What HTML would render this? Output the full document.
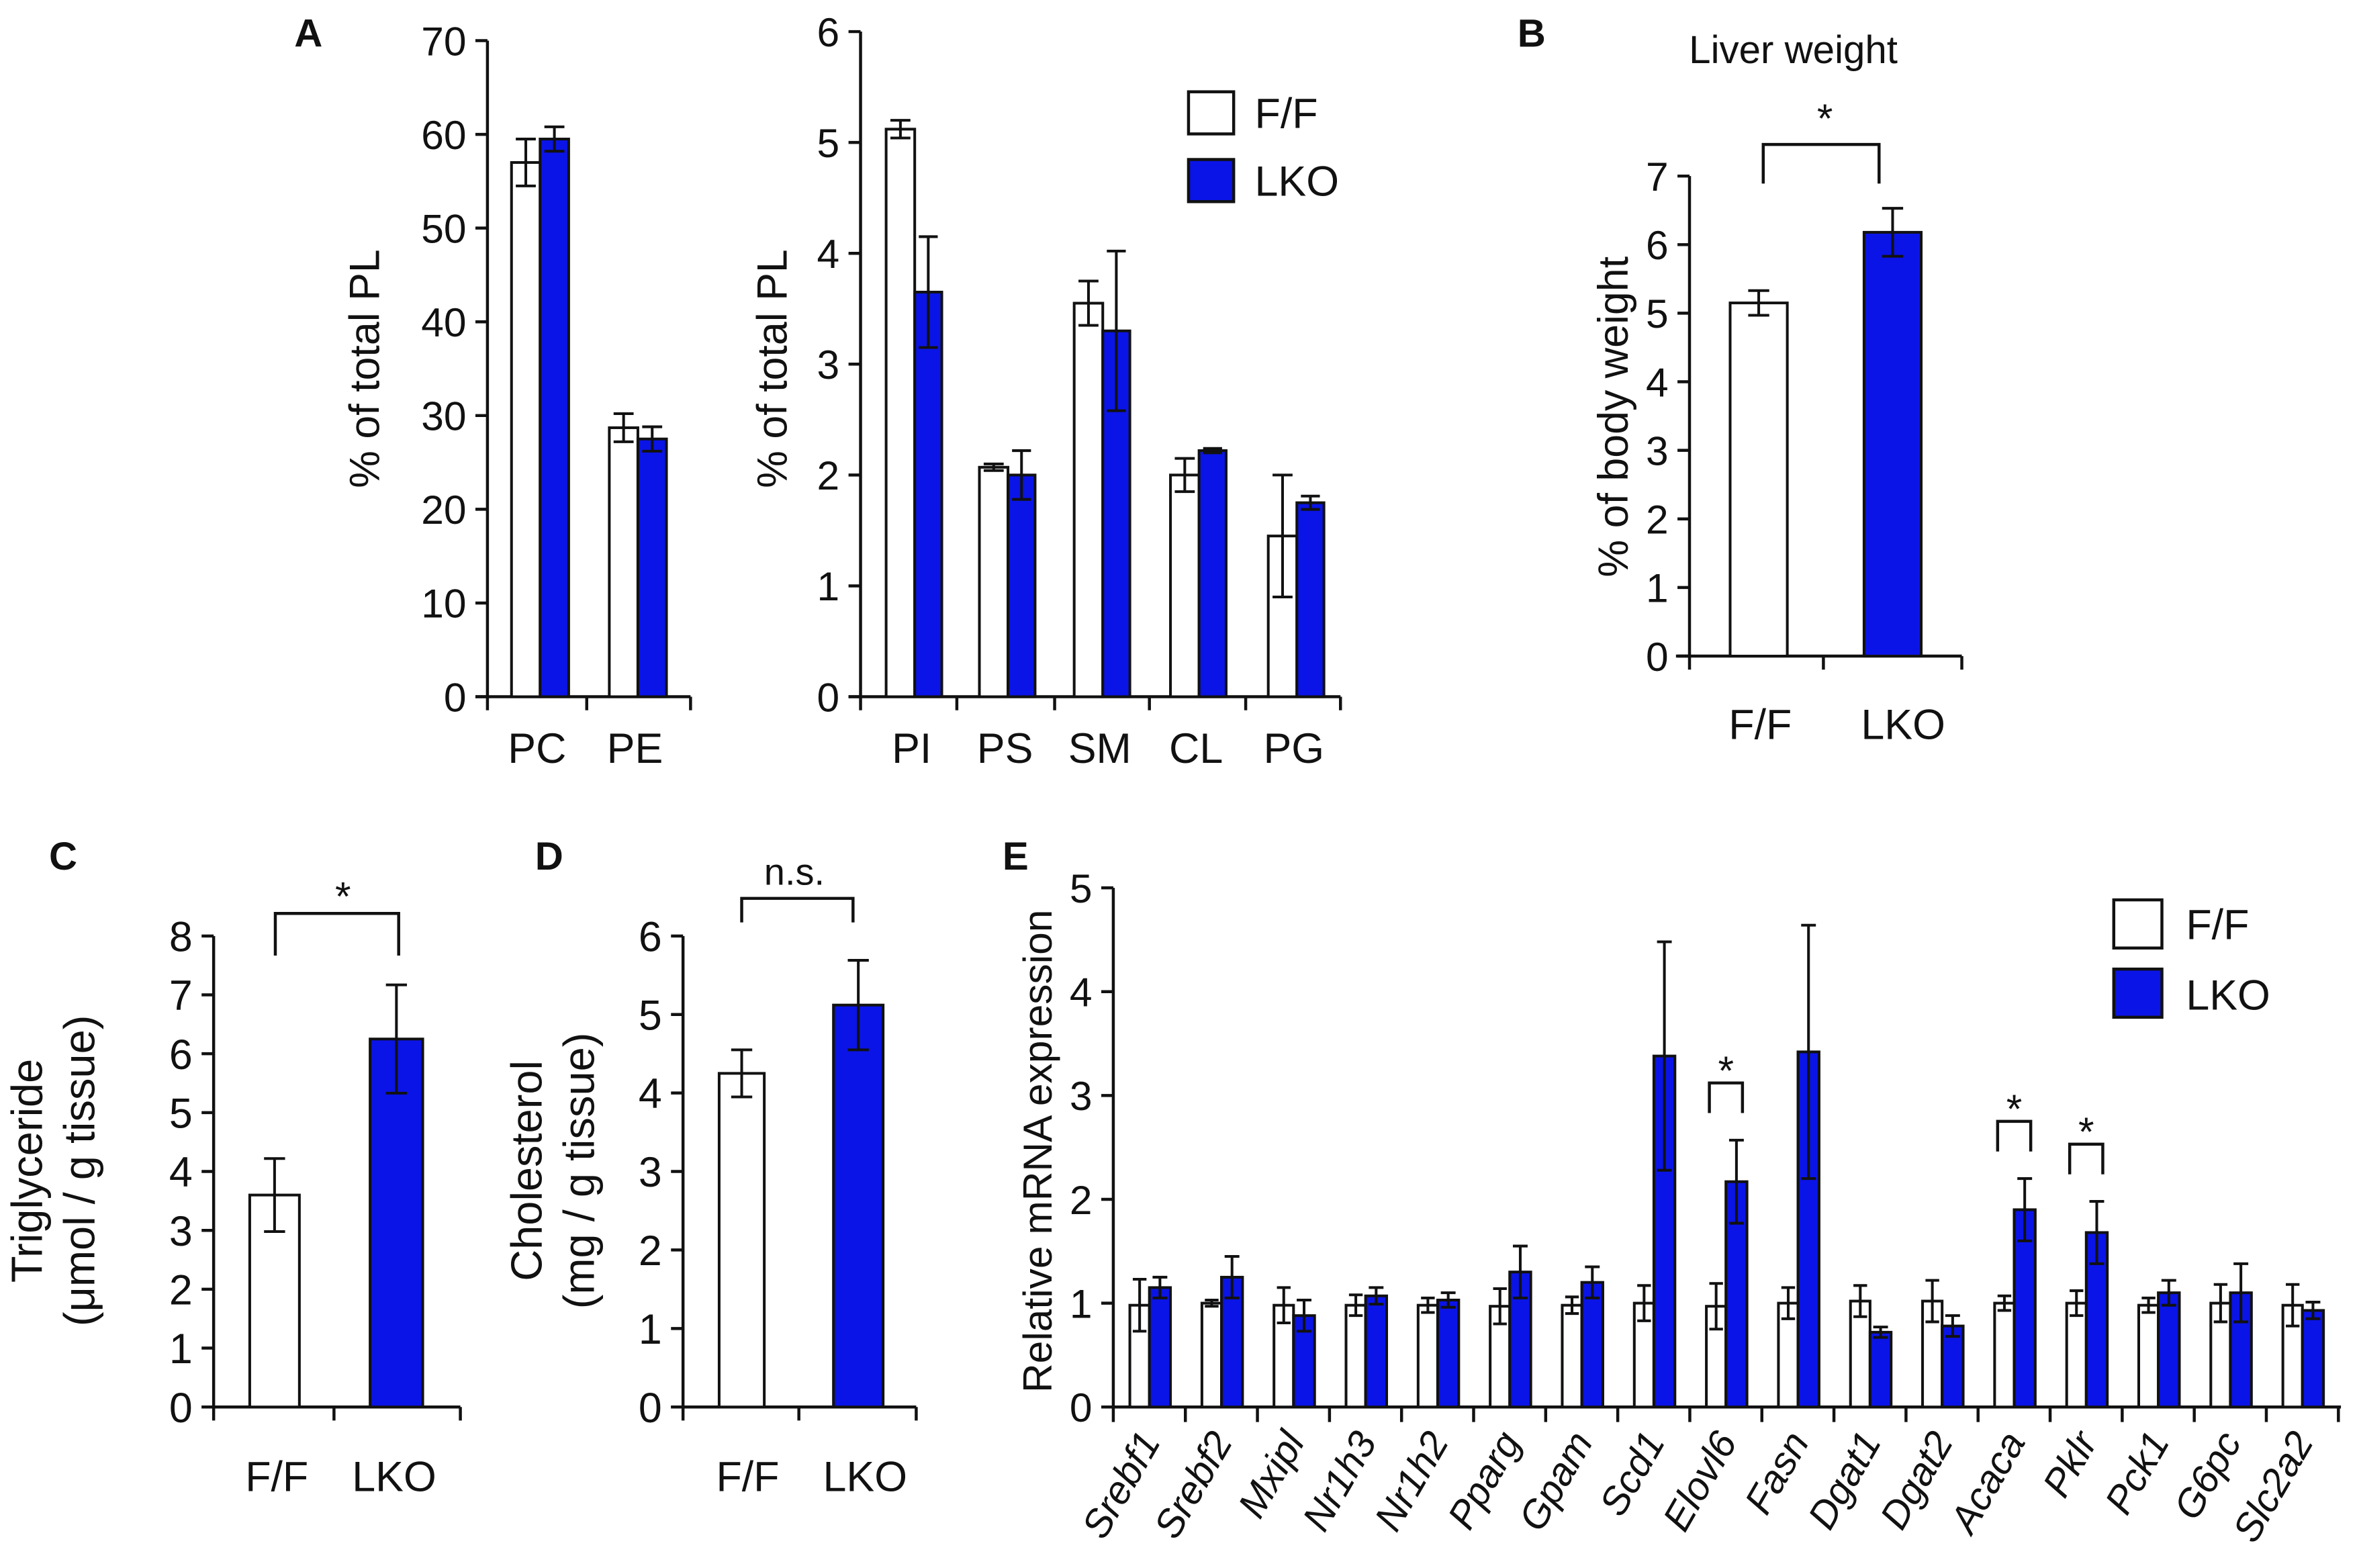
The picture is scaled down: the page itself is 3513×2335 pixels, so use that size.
<!DOCTYPE html>
<html><head><meta charset="utf-8"><style>
html,body{margin:0;padding:0;background:#fff}
svg{display:block}
text{font-family:"Liberation Sans",Arial,sans-serif;fill:#111}
</style></head><body>
<svg id="fig" width="3513" height="2335" viewBox="0 0 1568 1042" preserveAspectRatio="none" xmlns="http://www.w3.org/2000/svg"></svg>
<script>
// Panel A left
const a1Cats=["PC","PE"], a1FF=[57,28.7], a1FFe=[2.5,1.5], a1LKO=[59.5,27.5], a1LKOe=[1.3,1.3], a1Ticks=[0,10,20,30,40,50,60,70];
// Panel A right
const a2Cats=["PI","PS","SM","CL","PG"], a2FF=[5.12,2.07,3.55,2.0,1.45], a2FFe=[0.08,0.03,0.2,0.15,0.55], a2LKO=[3.65,2.0,3.3,2.22,1.75], a2LKOe=[0.5,0.22,0.72,0.02,0.06], a2Ticks=[0,1,2,3,4,5,6];
// Panel B
const bCats=["F/F","LKO"], bVals=[5.15,6.18], bErr=[0.18,0.35], bTicks=[0,1,2,3,4,5,6,7];
// Panel C
const cCats=["F/F","LKO"], cVals=[3.6,6.25], cErr=[0.62,0.92], cTicks=[0,1,2,3,4,5,6,7,8];
// Panel D
const dCats=["F/F","LKO"], dVals=[4.25,5.12], dErr=[0.3,0.57], dTicks=[0,1,2,3,4,5,6];
// Panel E
const eGenes=["Srebf1","Srebf2","Mxipl","Nr1h3","Nr1h2","Pparg","Gpam","Scd1","Elovl6","Fasn","Dgat1","Dgat2","Acaca","Pklr","Pck1","G6pc","Slc2a2"];
const eFF=[0.98,1.0,0.98,0.98,0.98,0.97,0.98,1.0,0.97,1.0,1.02,1.02,1.0,1.0,0.98,1.0,0.98];
const eFFe=[0.25,0.03,0.17,0.1,0.07,0.17,0.08,0.17,0.22,0.15,0.15,0.2,0.07,0.12,0.07,0.18,0.2];
const eLKO=[1.15,1.25,0.88,1.07,1.03,1.3,1.2,3.38,2.17,3.42,0.72,0.78,1.9,1.68,1.1,1.1,0.93];
const eLKOe=[0.1,0.2,0.15,0.08,0.07,0.25,0.15,1.1,0.4,1.22,0.05,0.1,0.3,0.3,0.12,0.28,0.08];
const eTicks=[0,1,2,3,4,5];
const eStars=["Elovl6","Acaca","Pklr"];

const svg=document.getElementById('fig');
const NS="http://www.w3.org/2000/svg";
const BLUE="#0a14e6";
function mk(tag,attrs,parent){const e=document.createElementNS(NS,tag);for(const k in attrs)e.setAttribute(k,attrs[k]);(parent||svg).appendChild(e);return e;}
function txt(x,y,s,size,parent,extra){const t=mk('text',Object.assign({x:x,y:y,'font-size':size,'text-anchor':'middle'},extra||{}),parent);t.textContent=s;return t;}
function line(x1,y1,x2,y2,p,w){return mk('line',{x1,y1,x2,y2,stroke:'#111','stroke-width':w||2},p);}

function yAxis(g,x,y0,y1,ticks,vmax,fs){
  const sc=v=>y0-(v/vmax)*(y0-y1);
  line(x,y0,x,sc(ticks[ticks.length-1]),g);
  ticks.forEach(v=>{line(x-8,sc(v),x,sc(v),g);txt(x-14,sc(v)+fs*0.36,String(v),fs,g,{'text-anchor':'end'});});
  return sc;
}
function bar(g,name,x,w,v,e,sc,fill){
  const r=mk('rect',{x:x,y:sc(v),width:w,height:sc(0)-sc(v),fill:fill,stroke:'#111','stroke-width':1.8},g);
  
  
  const cx=x+w/2, cap=Math.min(w*0.35,7);
  line(cx,sc(v+e),cx,sc(v-e),g,1.8);
  line(cx-cap,sc(v+e),cx+cap,sc(v+e),g,1.8);
  line(cx-cap,sc(v-e),cx+cap,sc(v-e),g,1.8);
}
function ylabel(g,x,cy,lines,fs){
  lines.forEach((s,i)=>{const xx=x+i*fs*1.2;txt(xx,cy,s,fs,g,{transform:`rotate(-90 ${xx} ${cy})`});});
}
function grp(name){const g=mk('g',{});return g;}
function panelLetter(x,y,s){const t=txt(x,y,s,26,svg,{'font-weight':'bold'});}

panelLetter(205,31,"A");panelLetter(1018,31,"B");panelLetter(42,578,"C");panelLetter(365,578,"D");panelLetter(675,578,"E");

// A1
(function(){const g=grp('chart-a-major-pl');
 const sc=yAxis(g,324,463,27,a1Ticks,70,27);
 line(316,463,459,463,g);
 const cx=[359,424];
 a1Cats.forEach((c,i)=>{bar(g,'bar-ff-'+c,cx[i]-19,19,a1FF[i],a1FFe[i],sc,'#fff');bar(g,'bar-lko-'+c,cx[i],19,a1LKO[i],a1LKOe[i],sc,BLUE);txt(cx[i]-2,507,c,28,g);});
 [324,390,459].forEach(x=>line(x,463,x,472,g));
 ylabel(g,252,245,["% of total PL"],28);
})();
// A2
(function(){const g=grp('chart-a-minor-pl');
 const sc=yAxis(g,572,463,21,a2Ticks,6,27);
 line(564,463,891,463,g);
 const cx=[608,670,733,797,862];
 a2Cats.forEach((c,i)=>{bar(g,'bar-ff-'+c,cx[i]-19,19,a2FF[i],a2FFe[i],sc,'#fff');bar(g,'bar-lko-'+c,cx[i],18,a2LKO[i],a2LKOe[i],sc,BLUE);txt(cx[i]-2,507,c,28,g);});
 [572,636,701,764,828,891].forEach(x=>line(x,463,x,472,g));
 ylabel(g,523,245,["% of total PL"],28);
 const l=grp('legend-a');
 mk('rect',{x:790,y:61,width:30,height:28,fill:'#fff',stroke:'#111','stroke-width':2},l);
 mk('rect',{x:790,y:106,width:30,height:28,fill:BLUE,stroke:'#111','stroke-width':2},l);
 txt(834,85,"F/F",28,l,{'text-anchor':'start'});txt(834,130,"LKO",28,l,{'text-anchor':'start'});
})();
// B
(function(){const g=grp('chart-b-liver-weight');
 const sc=yAxis(g,1123,436,117,bTicks,7,27);
 line(1114,436,1304,436,g);
 bar(g,'bar-ff',1150,38,bVals[0],bErr[0],sc,'#fff');bar(g,'bar-lko',1239,38,bVals[1],bErr[1],sc,BLUE);
 txt(1170,491,bCats[0],28,g);txt(1265,491,bCats[1],28,g);
 [1123,1212,1304].forEach(x=>line(x,436,x,445,g));
 txt(1192,42,"Liver weight",26,g);
 mk('polyline',{points:"1172,122 1172,96 1249,96 1249,122",fill:'none',stroke:'#111','stroke-width':2},g);
 txt(1213,88,"*",27,g);
 ylabel(g,1082,277,["% of body weight"],28);
})();
// C
(function(){const g=grp('chart-c-triglyceride');
 const sc=yAxis(g,142,935,622,cTicks,8,28);
 line(134,935,306,935,g);
 bar(g,'bar-ff',166,33,cVals[0],cErr[0],sc,'#fff');bar(g,'bar-lko',246,35,cVals[1],cErr[1],sc,BLUE);
 [142,222,306].forEach(x=>line(x,935,x,944,g));
 txt(184,991,cCats[0],28,g);txt(262,991,cCats[1],28,g);
 mk('polyline',{points:"183,635 183,607 265,607 265,635",fill:'none',stroke:'#111','stroke-width':2},g);
 txt(228,605,"*",27,g);
 ylabel(g,28,778,["Triglyceride","(μmol / g tissue)"],29);
})();
// D
(function(){const g=grp('chart-d-cholesterol');
 const sc=yAxis(g,454,935,622,dTicks,6,28);
 line(446,935,609,935,g);
 bar(g,'bar-ff',478,30,dVals[0],dErr[0],sc,'#fff');bar(g,'bar-lko',554,33,dVals[1],dErr[1],sc,BLUE);
 [454,531,609].forEach(x=>line(x,935,x,944,g));
 txt(497,991,dCats[0],28,g);txt(575,991,dCats[1],28,g);
 mk('polyline',{points:"493,613 493,597 567,597 567,613",fill:'none',stroke:'#111','stroke-width':2},g);
 txt(528,588,"n.s.",25,g);
 ylabel(g,360,778,["Cholesterol","(mg / g tissue)"],29);
})();
// E
(function(){const g=grp('chart-e-mrna');
 const sc=yAxis(g,740,935,590,eTicks,5,27);
 const x0=764, dx=47.9;
 line(740,935,1556,935,g);
 for(let i=0;i<=eGenes.length;i++){const x=740+i*dx;line(x,935,x,945,g);}
 eGenes.forEach((gname,i)=>{const cx=x0+i*dx;
  bar(g,'bar-ff-'+gname,cx-13,13,eFF[i],eFFe[i],sc,'#fff');
  bar(g,'bar-lko-'+gname,cx,14,eLKO[i],eLKOe[i],sc,BLUE);
  const lx=cx+8, ly=958;
  txt(lx,ly,gname,26,g,{'text-anchor':'end','font-style':'italic',transform:`rotate(-60 ${lx} ${ly})`});
  if(eStars.includes(gname)){
   const bot=sc(eLKO[i]+eLKOe[i])-18, top=bot-20;
   mk('polyline',{points:`${cx-11},${bot} ${cx-11},${top} ${cx+11},${top} ${cx+11},${bot}`,fill:'none',stroke:'#111','stroke-width':2},g);
   txt(cx,top+1,"*",27,g);
  }
 });
 ylabel(g,699,765,["Relative mRNA expression"],27);
 const l=grp('legend-e');
 mk('rect',{x:1405,y:598,width:32,height:32,fill:'#fff',stroke:'#111','stroke-width':2},l);
 mk('rect',{x:1405,y:644,width:32,height:32,fill:BLUE,stroke:'#111','stroke-width':2},l);
 txt(1453,624,"F/F",28,l,{'text-anchor':'start'});txt(1453,671,"LKO",28,l,{'text-anchor':'start'});
})();
</script>
</body></html>
